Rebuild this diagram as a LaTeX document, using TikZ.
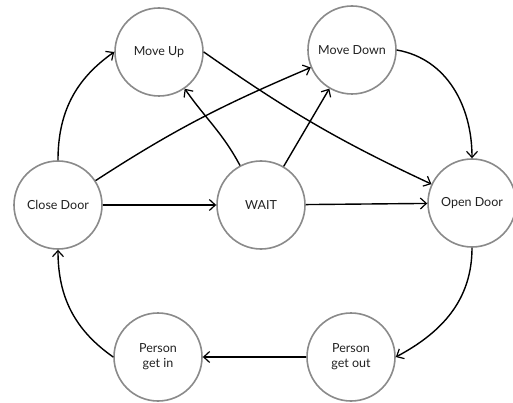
\documentclass[tikz,border=0pt]{standalone}
\usepackage{fontspec}
\setmainfont{Lato}
\usetikzlibrary{arrows.meta}
\definecolor{ring}{HTML}{8A8A8A}
\definecolor{txt}{HTML}{222222}
\tikzset{
  state/.style={circle, draw=ring, line width=1.6pt, fill=white, minimum size=88pt, inner sep=0pt, align=center, text=txt, font=\fontsize{12.5}{15}\selectfont},
  link/.style={line width=1.4pt, -{Straight Barb[length=6pt,width=11pt,line width=1.2pt]}}
}
\begin{document}
\begin{tikzpicture}[x=1pt,y=-1pt]
\useasboundingbox (0,0) rectangle (513,403);
\node[state] (mu) at (159,52) {Move Up};
\node[state] (md) at (352,50) {Move Down};
\node[state] (cd) at (58,205) {Close Door};
\node[state] (wt) at (261,205) {WAIT};
\node[state] (od) at (472,203) {Open Door};
\node[state] (pgo) at (351,357) {Person\\get out};
\node[state] (pgi) at (158,357) {Person\\get in};
\draw[link] (cd.north) to[out=90,in=215] (mu.west);
\draw[link] (cd) to[out=33,in=203] (md);
\draw[link] (cd) -- (wt);
\draw[link] (wt) to[out=118,in=-55] (mu);
\draw[link] (wt) -- (md);
\draw[link] (wt) -- (od);
\draw[link] (mu.east) to[out=-35,in=155] (od);
\draw[link] (md.east) to[out=-10,in=90] (od.north);
\draw[link] (od.south) to[out=-90,in=28] (pgo.east);
\draw[link] (pgo) -- (pgi);
\draw[link] (pgi.west) to[out=145,in=-90] (cd.south);
\end{tikzpicture}
\end{document}
